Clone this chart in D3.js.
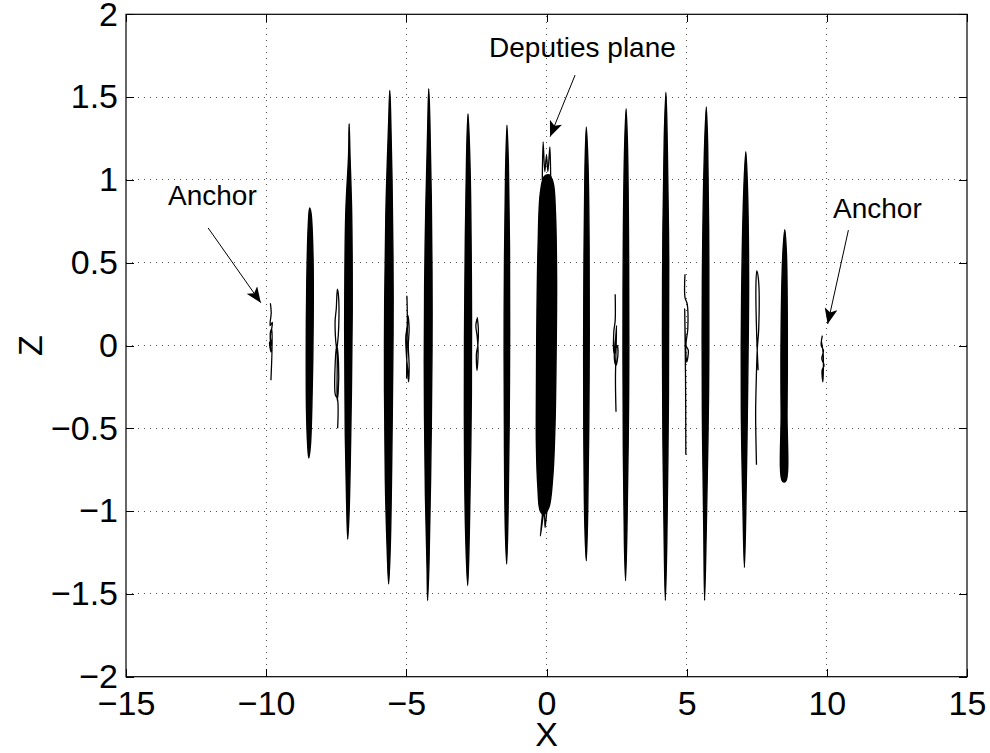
<!DOCTYPE html>
<html>
<head>
<meta charset="utf-8">
<script src="https://cdn.jsdelivr.net/npm/d3@7"></script>
<style>
  html, body { margin: 0; padding: 0; background: #fff; }
  svg { display: block; font-family: "Liberation Sans", Arial, Helvetica, sans-serif; }
</style>
</head>
<body>
<script>
// ---------------- DATA ----------------
const xTicks = [-15, -10, -5, 0, 5, 10, 15];
const zTicks = [-2, -1.5, -1, -0.5, 0, 0.5, 1, 1.5, 2];
const xDomain = [-15, 15];
const zDomain = [-2, 2];
const xLabel = "X";
const zLabel = "Z";

// Dense (filled) deputy trajectory bundles: outline points [x, z]
const bundleXm84 = [[-8.45,0.83],[-8.50,0.72],[-8.55,0.40],[-8.57,0.00],[-8.56,-0.40],[-8.52,-0.60],[-8.48,-0.68],[-8.42,-0.60],[-8.35,-0.20],[-8.32,0.20],[-8.33,0.55],[-8.40,0.80]];
const bundleXm70 = [[-7.04,1.34],[-7.06,1.15],[-7.16,0.80],[-7.20,0.10],[-7.18,-0.50],[-7.13,-0.95],[-7.09,-1.17],[-7.04,-1.00],[-6.97,-0.40],[-6.93,0.20],[-6.95,0.80],[-7.01,1.15]];
const bundleXm56 = [[-5.59,1.54],[-5.63,1.35],[-5.73,0.80],[-5.78,0.00],[-5.75,-0.80],[-5.68,-1.25],[-5.63,-1.44],[-5.57,-1.20],[-5.50,-0.40],[-5.47,0.30],[-5.51,1.00],[-5.56,1.40]];
const bundleXm42 = [[-4.20,1.55],[-4.24,1.30],[-4.33,0.60],[-4.36,-0.10],[-4.32,-0.90],[-4.26,-1.35],[-4.24,-1.54],[-4.19,-1.30],[-4.11,-0.50],[-4.08,0.20],[-4.11,0.90],[-4.16,1.35]];
const bundleXm28 = [[-2.80,1.40],[-2.85,1.15],[-2.91,0.40],[-2.93,-0.40],[-2.89,-1.10],[-2.81,-1.45],[-2.75,-1.10],[-2.68,-0.30],[-2.68,0.40],[-2.73,1.10]];
const bundleXm14 = [[-1.41,1.33],[-1.46,1.05],[-1.51,0.20],[-1.50,-0.60],[-1.47,-1.10],[-1.42,-1.32],[-1.37,-1.00],[-1.32,-0.20],[-1.32,0.60],[-1.36,1.10]];
const bundleX00  = [[-0.08,1.02],[-0.22,0.92],[-0.30,0.60],[-0.34,0.20],[-0.36,-0.30],[-0.36,-0.60],[-0.31,-0.85],[-0.22,-1.00],[-0.10,-1.02],[0.08,-0.98],[0.22,-0.80],[0.30,-0.50],[0.34,-0.10],[0.36,0.40],[0.32,0.80],[0.24,0.98],[0.10,1.03]];
const bundleXp14 = [[1.42,1.32],[1.37,1.05],[1.33,0.30],[1.33,-0.50],[1.37,-1.10],[1.42,-1.30],[1.47,-1.00],[1.52,-0.20],[1.52,0.60],[1.48,1.10]];
const bundleXp28 = [[2.84,1.43],[2.78,1.15],[2.73,0.30],[2.74,-0.60],[2.78,-1.20],[2.82,-1.42],[2.87,-1.10],[2.93,-0.30],[2.93,0.50],[2.89,1.20]];
const bundleXp42 = [[4.26,1.53],[4.20,1.25],[4.14,0.40],[4.15,-0.50],[4.20,-1.20],[4.24,-1.54],[4.29,-1.20],[4.35,-0.30],[4.36,0.50],[4.31,1.20]];
const bundleXp56 = [[5.70,1.44],[5.63,1.15],[5.56,0.40],[5.56,-0.40],[5.61,-1.10],[5.64,-1.54],[5.70,-1.10],[5.78,-0.30],[5.79,0.50],[5.75,1.20]];
const bundleXp71 = [[7.11,1.17],[7.04,0.95],[6.96,0.30],[6.95,-0.40],[7.01,-1.00],[7.06,-1.34],[7.11,-1.00],[7.18,-0.20],[7.21,0.40],[7.17,0.95]];
const bundleXp85 = [[8.50,0.70],[8.43,0.55],[8.37,0.10],[8.37,-0.40],[8.42,-0.82],[8.53,-0.82],[8.58,-0.40],[8.59,0.10],[8.56,0.55]];

// Sparse trajectories (single line loops): points [x, z]
const loopAnchorLeft  = [[-9.85,0.255],[-9.82,0.20],[-9.86,0.12],[-9.78,0.14],[-9.84,0.05],[-9.80,0.00],[-9.88,0.02],[-9.83,-0.04],[-9.85,0.08],[-9.80,0.10],[-9.83,-0.21]];
const loopXm74 = [[-7.45,-0.50],[-7.46,-0.32],[-7.53,-0.30],[-7.54,-0.12],[-7.48,0.00],[-7.42,-0.10],[-7.43,-0.28],[-7.47,-0.33],[-7.47,-0.05],[-7.52,0.03],[-7.54,0.15],[-7.50,0.22],[-7.46,0.34],[-7.42,0.30],[-7.41,0.12],[-7.46,0.00],[-7.48,-0.02]];
const loopXm50 = [[-4.98,0.30],[-4.97,0.12],[-5.02,0.05],[-5.00,-0.05],[-4.95,-0.15],[-4.92,-0.22],[-4.90,-0.12],[-4.93,0.00],[-4.90,0.10],[-4.94,0.18],[-4.97,0.05],[-4.99,-0.20]];
const loopXm25 = [[-2.47,0.17],[-2.43,0.10],[-2.45,0.00],[-2.50,-0.05],[-2.48,-0.15],[-2.44,-0.05],[-2.47,0.05],[-2.52,0.12],[-2.48,0.16]];
const loopXp25 = [[2.45,0.31],[2.45,0.15],[2.40,0.08],[2.42,-0.05],[2.52,0.00],[2.55,-0.05],[2.48,-0.12],[2.42,-0.08],[2.47,0.05],[2.50,0.12],[2.46,-0.20],[2.48,-0.40]];
const loopXp50 = [[4.94,0.43],[4.94,0.29],[5.02,0.25],[5.04,0.10],[4.98,0.00],[5.06,-0.03],[5.00,-0.10],[4.95,0.05],[4.93,0.22],[4.96,-0.20],[4.97,-0.66]];
const loopXp75 = [[7.55,-0.15],[7.50,0.05],[7.47,0.35],[7.50,0.45],[7.56,0.40],[7.57,0.10],[7.52,-0.02],[7.47,-0.30],[7.46,-0.42],[7.49,-0.72]];
const loopAnchorRight = [[9.84,0.06],[9.80,0.00],[9.88,-0.03],[9.82,-0.08],[9.90,-0.12],[9.83,-0.15],[9.86,-0.22],[9.87,-0.05],[9.81,0.02]];
const spikesX00Top    = [[-0.15,1.00],[-0.12,1.23],[-0.06,1.05],[0.00,1.15],[0.05,1.05],[0.12,1.20],[0.15,1.00]];
const spikesX00Bottom = [[-0.12,-0.98],[-0.22,-1.15],[-0.08,-1.00],[-0.05,-1.10],[0.02,-0.98]];

// Annotations: label text, text anchor point, arrow start, arrow tip
const annotationTexts  = ["Anchor", "Deputies plane", "Anchor"];
const annotationTextXZ = [[-13.5, 0.85], [-2.05, 1.74], [10.22, 0.77]];
const arrowStartXZ     = [[-12.07, 0.71], [1.02, 1.633], [10.77, 0.697]];
const arrowTipXZ       = [[-10.19, 0.258], [0.127, 1.261], [10.03, 0.130]];

const bundles = [bundleXm84, bundleXm70, bundleXm56, bundleXm42, bundleXm28, bundleXm14, bundleX00,
                 bundleXp14, bundleXp28, bundleXp42, bundleXp56, bundleXp71, bundleXp85];
const loops = [loopAnchorLeft, loopXm74, loopXm50, loopXm25, loopXp25, loopXp50, loopXp75, loopAnchorRight,
               spikesX00Top, spikesX00Bottom];

// ---------------- CHART ----------------
const W = 990, H = 753;
const L = 126, R = 967, T = 14.3, B = 676.7;
const svg = d3.select("body").append("svg").attr("width", W).attr("height", H);

const x = d3.scaleLinear().domain(xDomain).range([L, R]);
const y = d3.scaleLinear().domain(zDomain).range([B, T]);
const fmt = v => String(v).replace("-", "\u2212");

// grid
const grid = svg.append("g").attr("class", "grid");
grid.selectAll("line.gx").data(xTicks.slice(1, -1)).join("line")
  .attr("x1", d => x(d)).attr("x2", d => x(d)).attr("y1", B).attr("y2", T)
  .attr("stroke", "#555").attr("stroke-width", 1).attr("stroke-dasharray", "1,5")
  .attr("shape-rendering", "crispEdges");
grid.selectAll("line.gy").data(zTicks.slice(1, -1)).join("line")
  .attr("y1", d => y(d)).attr("y2", d => y(d)).attr("x1", L).attr("x2", R)
  .attr("stroke", "#555").attr("stroke-width", 1).attr("stroke-dasharray", "1,5")
  .attr("shape-rendering", "crispEdges");

// data
const line = d3.line().x(d => x(d[0])).y(d => y(d[1]));
const plot = svg.append("g");
plot.selectAll("path.bundle").data(bundles).join("path")
  .attr("class", "bundle")
  .attr("d", d => line.curve(d3.curveCatmullRomClosed.alpha(0.5))(d))
  .attr("fill", "#000").attr("stroke", "#000").attr("stroke-width", 1.4);
plot.selectAll("path.loop").data(loops).join("path")
  .attr("class", "loop")
  .attr("d", d => line.curve(d3.curveCatmullRom.alpha(0.5))(d))
  .attr("fill", "none").attr("stroke", "#000").attr("stroke-width", 1.3);

// axes (ticks inward on all four sides)
const axisStyle = g => {
  g.select(".domain").remove();
  g.selectAll(".tick line").attr("stroke", "#000").attr("shape-rendering", "crispEdges");
  g.selectAll("text").attr("font-size", 34).attr("fill", "#000")
    .attr("font-family", "'Liberation Sans', Arial, sans-serif");
};
svg.append("g").attr("transform", `translate(0,${B})`)
  .call(d3.axisBottom(x).tickValues(xTicks).tickFormat(fmt).tickSize(-8).tickPadding(14))
  .call(axisStyle);
svg.append("g").attr("transform", `translate(0,${T})`)
  .call(d3.axisTop(x).tickValues(xTicks).tickFormat("").tickSize(-8))
  .call(axisStyle);
svg.append("g").attr("transform", `translate(${L},0)`)
  .call(d3.axisLeft(y).tickValues(zTicks).tickFormat(fmt).tickSize(-8).tickPadding(8))
  .call(axisStyle);
svg.append("g").attr("transform", `translate(${R},0)`)
  .call(d3.axisRight(y).tickValues(zTicks).tickFormat("").tickSize(-8))
  .call(axisStyle);

// box
svg.append("rect").attr("x", L).attr("y", T).attr("width", R - L).attr("height", B - T)
  .attr("fill", "none").attr("stroke", "#000").attr("stroke-width", 1.2);

// axis labels
svg.append("text").attr("x", (L + R) / 2).attr("y", 746).attr("text-anchor", "middle")
  .attr("font-size", 34).text(xLabel);
svg.append("text").attr("transform", `translate(42,${(T + B) / 2}) rotate(-90)`)
  .attr("text-anchor", "middle").attr("font-size", 34).text(zLabel);

// annotations
const defs = svg.append("defs");
defs.append("marker").attr("id", "arrowhead").attr("viewBox", "0 0 12 10")
  .attr("refX", 12).attr("refY", 5).attr("markerWidth", 16).attr("markerHeight", 13)
  .attr("markerUnits", "userSpaceOnUse").attr("orient", "auto")
  .append("path").attr("d", "M0,0 L12,5 L0,10 L3,5 Z").attr("fill", "#000");

const ann = svg.append("g");
ann.selectAll("line").data(arrowStartXZ).join("line")
  .attr("x1", d => x(d[0])).attr("y1", d => y(d[1]))
  .attr("x2", (d, i) => x(arrowTipXZ[i][0])).attr("y2", (d, i) => y(arrowTipXZ[i][1]))
  .attr("stroke", "#000").attr("stroke-width", 1).attr("marker-end", "url(#arrowhead)");
ann.selectAll("text").data(annotationTexts).join("text")
  .attr("x", (d, i) => x(annotationTextXZ[i][0])).attr("y", (d, i) => y(annotationTextXZ[i][1]))
  .attr("font-size", 28).attr("fill", "#000").text(d => d);
</script>
</body>
</html>
